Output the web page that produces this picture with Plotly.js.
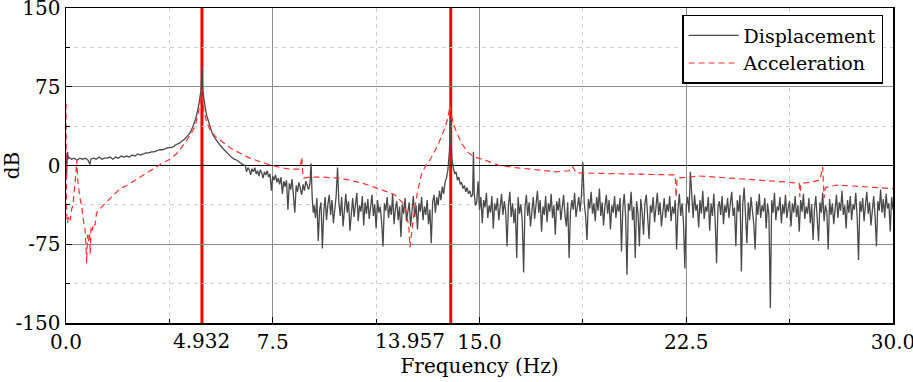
<!DOCTYPE html>
<html>
<head>
<meta charset="utf-8">
<script src="https://cdn.plot.ly/plotly-3.0.1.min.js"></script>
<style>html,body{margin:0;padding:0;background:#fff;}#chart{width:913px;height:382px;}</style>
</head>
<body>
<div id="chart"></div>
<script>
// ---------- Displacement (dB) ----------
const dispLowF = [0.00,0.02,0.04,0.06,0.08,0.10,0.2,0.3,0.4,0.5,0.6,0.7,0.8,0.87,0.9,1.0,1.1,1.2,1.3,1.4,1.5,1.6,1.7,1.8,1.9,2.0,2.1,2.2,2.3,2.4,2.5,2.6,2.7,2.8,2.9,3.0,3.1,3.2,3.3,3.4,3.5,3.6,3.7,3.8,3.9,4.0,4.1,4.2,4.3,4.4,4.5,4.6,4.7,4.8,4.86,4.9,4.92,4.932,4.945,4.96,5.0,5.05,5.1,5.2,5.3,5.4,5.5,5.6,5.7,5.8,5.9,6.0,6.1,6.2,6.3,6.4];
const dispLowV = [12,-11,4,13,6,8,6,7,5,7,6,7,5,1,6,7,6,8,6,7,7,8,6,8,7,9,8,9,8,10,9,11,10,11,12,12,13,13,14,15,15,16,17,17,18,20,21,23,25,28,31,37,44,55,64,72,85,95,84,72,62,55,48,40,31,26,22,19,16,13,11,8,6,5,3,1];
const dispMidStart = 6.50;
const dispMid = [0,-6,-2,-4,-9,-3,-6,-2,-8,-5,-10,-4,-7,-12,-6,-9,-5,-11,-8,-24,-10,-14,-9,-16,-12,-18,-11,-27,-15,-20,-14,-42,-17,-23,-13,-30,-45,-19,-25,-16,-22,-28,-18,-24,-15,-20,-23,-17];
const dispSpikeF = [8.89,8.93,8.97];
const dispSpikeV = [2,-30,-45];
const dispNoiseAStart = 9.00;
const dispNoiseA = [-38,-50,-31,-72,-42,-35,-79,-44,-30,-52,-37,-28,-47,-33,-55,-40,-29,-2,-36,-48,
  -30,-58,-39,-27,-45,-34,-62,-41,-31,-49,-36,-26,-53,-38,-44,-29,-57,-35,-46,-32,
  -51,-40,-28,-48,-37,-60,-33,-45,-39,-54,-77,-36,-43,-30,-50,-38,-47,-27,-56,-41,
  -34,-52,-39,-68,-37,-46,-31,-53,-42,-35,-58,-40,-29,-49,-38,-61,-36,-44,-30,-52,
  -39,-47,-33,-56,-42,-74,-35,-28,-45,-30,-38,-24,-33,-20,-27,-16];
const dispPeak2F = [13.80,13.85,13.88,13.91,13.93,13.945,13.96,13.98,14.00,14.05,14.10,14.15,14.20,14.25,14.30,14.35,14.40,14.45,14.50,14.55,14.60,14.65,14.70,14.75,14.78,14.81,14.85];
const dispPeak2V = [-12,-5,2,14,28,44,30,15,6,-2,-8,-6,-14,-11,-18,-16,-22,-19,-25,-21,-27,-24,-30,-28,13,-26,-38];
const dispNoiseBStart = 14.90;
const dispNoiseB = [
  -35,-15,-42,-30,-55,-33,-40,-26,-50,-38,-45,-29,-60,-36,-43,-31,-52,-39,-27,-47,
  -34,-44,-77,-38,-25,-49,-36,-55,-41,-88,-30,-46,-37,-52,-102,-40,-28,-48,-35,-58,
  -42,-30,-51,-37,-24,-45,-33,-63,-39,-47,-29,-54,-36,-44,-27,-50,-38,-66,-34,-43,
  -31,-52,-40,-28,-47,-58,-35,-88,-45,-33,-42,-26,-49,-37,-30,-44,-28,3,-36,-48,
  -71,-32,-41,-25,-46,-36,-53,-30,-43,-22,-48,-35,-57,-39,-28,-46,-33,-61,-38,-45,
  -29,-50,-37,-44,-31,-82,-40,-27,-48,-104,-36,-43,-25,-52,-39,-88,-34,-46,-77,-32,
  -44,-66,-36,-28,-49,-70,-38,-45,-30,-54,-40,-26,-47,-35,-58,-42,-31,-50,-37,-44,
  -29,-53,-39,-46,-33,-80,-41,-27,-48,-36,-55,-98,-38,-30,-45,-6,-35,-50,-28,-43,
  -37,-59,-33,-46,-24,-51,-39,-44,-30,-62,-36,-48,-27,-53,-93,-40,-34,-47,-29,-56,
  -38,-45,-31,-50,-36,-25,-48,-40,-77,-33,-44,-28,-101,-37,-21,-46,-74,-35,-52,-30,
  -42,-56,-80,-34,-47,-27,-50,-38,-44,-31,-60,-36,-48,-136,-33,-45,-26,-52,-39,-43,
  -30,-55,-37,-46,-28,-50,-40,-34,-58,-36,-45,-29,-49,-38,-63,-33,-44,-27,-51,-39,
  -46,-31,-55,-37,-71,-42,-29,-48,-72,-35,-45,-26,-53,-38,-44,-80,-32,-47,-36,-56,
  -40,-28,-50,-35,-43,-24,-47,-38,-60,-33,-45,-29,-52,-37,-42,-26,-49,-90,-34,-44,
  -31,-53,-38,-25,-46,-35,-57,-40,-29,-48,-77,-34,-43,-23,-45,-32,-50,-27,-41,-36,
  -63,-30,-42];

// ---------- Acceleration (dB) ----------
const accF = [0.00,0.02,0.05,0.10,0.15,0.20,0.25,0.30,0.35,0.39,0.43,0.50,0.57,0.63,0.69,0.72,0.75,0.78,0.82,0.85,0.88,0.91,0.95,1.00,1.05,1.11,1.20,1.35,1.50,1.65,1.80,1.96,2.20,2.50,2.80,3.00,3.29,3.55,3.77,4.00,4.13,4.25,4.38,4.50,4.62,4.72,4.80,4.86,4.90,4.93,4.96,5.00,5.10,5.22,5.40,5.59,5.80,5.95,6.07,6.31,6.67,7.00,7.40,7.80,8.12,8.49,8.55,8.58,8.62,8.85,9.30,9.82,10.30,10.78,11.25,11.75,11.93,12.10,12.23,12.35,12.44,12.48,12.60,12.75,12.90,13.05,13.13,13.30,13.50,13.75,13.85,13.93,14.00,14.10,14.35,14.60,14.84,15.20,15.74,16.30,16.95,17.40,17.80,18.25,18.38,18.50,19.50,20.50,21.50,22.10,22.13,22.17,23.00,24.08,25.00,26.26,26.60,26.62,26.66,27.00,27.35,27.45,27.50,27.55,27.95,28.90,30.00];
const accV = [59,-42,-55,-48,-52,-42,-38,-26,-10,5,-15,-30,-39,-52,-61,-75,-93,-66,-72,-64,-84,-58,-62,-55,-57,-45,-42,-38,-34,-30,-26,-22,-19,-14,-9,-6,-1,3,6,11,15,19,24,29,34,41,50,58,65,72,62,52,42,34,28,24,20,17,15,12,7,4,0.5,-2,-3.5,-3.5,8,-5,-12,-11,-11,-12,-14,-17,-21,-26,-28,-32,-36,-45,-60,-78,-50,-25,-8,0,2,10,20,36,45,57,45,36,21,12,8,5,0,-2,-4,-5,-6,-5,-1,-7,-7.5,-8,-8.5,-9,-30,-12,-10,-12,-13,-16,-17,-30,-17,-16,-14,-1,-31,-21,-18.6,-20,-22];

// ---------- axes / markers ----------
const xTickVals = [0, 7.5, 15, 22.5, 30];
const xTickText = ['0.0', '7.5', '15.0', '22.5', '30.0'];
const xMinorVals = [3.75, 11.25, 18.75, 26.25];
const yTickVals = [150, 75, 0, -75, -150];
const yTickText = ['150', '75', '0', '-75', '-150'];
const yMinorVals = [112.5, 37.5, -37.5, -112.5];
const peakFreqs = [4.932, 13.957];
const peakLabels = ['4.932', '13.957'];

function grid(start, vals) { return vals.map((v, i) => +(start + i * 0.05).toFixed(3)); }
const dispF = [].concat(dispLowF, grid(dispMidStart, dispMid), dispSpikeF, grid(dispNoiseAStart, dispNoiseA), dispPeak2F, grid(dispNoiseBStart, dispNoiseB));
const dispV = [].concat(dispLowV, dispMid, dispSpikeV, dispNoiseA, dispPeak2V, dispNoiseB);

const FONT = 'DejaVu Serif';
const FS = 20;

const traces = [
  { x: dispF, y: dispV, type: 'scatter', mode: 'lines', name: 'Displacement',
    line: { color: '#4a4a4a', width: 1.3 } },
  { x: accF, y: accV, type: 'scatter', mode: 'lines', name: 'Acceleration',
    line: { color: '#ff3030', width: 1.2, dash: '6px,4px' } }
];

const shapes = peakFreqs.map(f => ({
  type: 'line', xref: 'x', yref: 'paper', x0: f, x1: f, y0: 0, y1: 1,
  line: { color: '#ff0000', width: 3 }, layer: 'between'
}));

const annotations = peakFreqs.map((f, i) => ({
  xref: 'x', yref: 'paper', x: f, y: 0, text: peakLabels[i], showarrow: false,
  xanchor: i === 0 ? 'center' : 'right', yanchor: 'top', xshift: i === 0 ? 0 : -4, yshift: -4,
  font: { family: FONT, size: FS, color: '#000' }
}));

const layout = {
  width: 913, height: 382,
  margin: { l: 66, r: 20, t: 8, b: 59 },
  paper_bgcolor: '#fff', plot_bgcolor: '#fff',
  font: { family: FONT, size: FS, color: '#000' },
  showlegend: true,
  legend: { x: 0.988, xanchor: 'right', y: 0.978, yanchor: 'top', bgcolor: '#fff',
    bordercolor: '#000', borderwidth: 1.5, font: { family: FONT, size: 19, color: '#000' },
    itemwidth: 50, tracegroupgap: 0 },
  xaxis: {
    range: [0, 30], tickmode: 'array', tickvals: xTickVals, ticktext: xTickText,
    ticklabeloverflow: 'allow',
    showline: true, linecolor: '#000', linewidth: 1.5, mirror: true,
    ticks: 'inside', ticklen: 6, tickcolor: '#000', tickwidth: 1,
    showgrid: true, gridcolor: '#8c8c8c', gridwidth: 1, zeroline: false,
    minor: { tickmode: 'array', tickvals: xMinorVals, ticks: 'inside', ticklen: 4, tickcolor: '#000',
      showgrid: true, gridcolor: '#cfcfcf', griddash: '4px,4px', gridwidth: 1 },
    title: { text: 'Frequency (Hz)', font: { family: FONT, size: FS, color: '#000' }, standoff: 6 },
    tickfont: { family: FONT, size: FS, color: '#000' }
  },
  yaxis: {
    range: [-150, 150], tickmode: 'array', tickvals: yTickVals, ticktext: yTickText,
    ticklabeloverflow: 'allow',
    showline: true, linecolor: '#000', linewidth: 1.5, mirror: true,
    ticks: 'inside', ticklen: 6, tickcolor: '#000', tickwidth: 1,
    showgrid: true, gridcolor: '#8c8c8c', gridwidth: 1,
    zeroline: true, zerolinecolor: '#000', zerolinewidth: 1.5,
    minor: { tickmode: 'array', tickvals: yMinorVals, ticks: 'inside', ticklen: 4, tickcolor: '#000',
      showgrid: true, gridcolor: '#cfcfcf', griddash: '4px,4px', gridwidth: 1 },
    title: { text: 'dB', font: { family: FONT, size: FS, color: '#000' }, standoff: 4 },
    tickfont: { family: FONT, size: FS, color: '#000' }
  },
  shapes: shapes,
  annotations: annotations
};

Plotly.newPlot('chart', traces, layout, { displayModeBar: false, staticPlot: true });
</script>
</body>
</html>
